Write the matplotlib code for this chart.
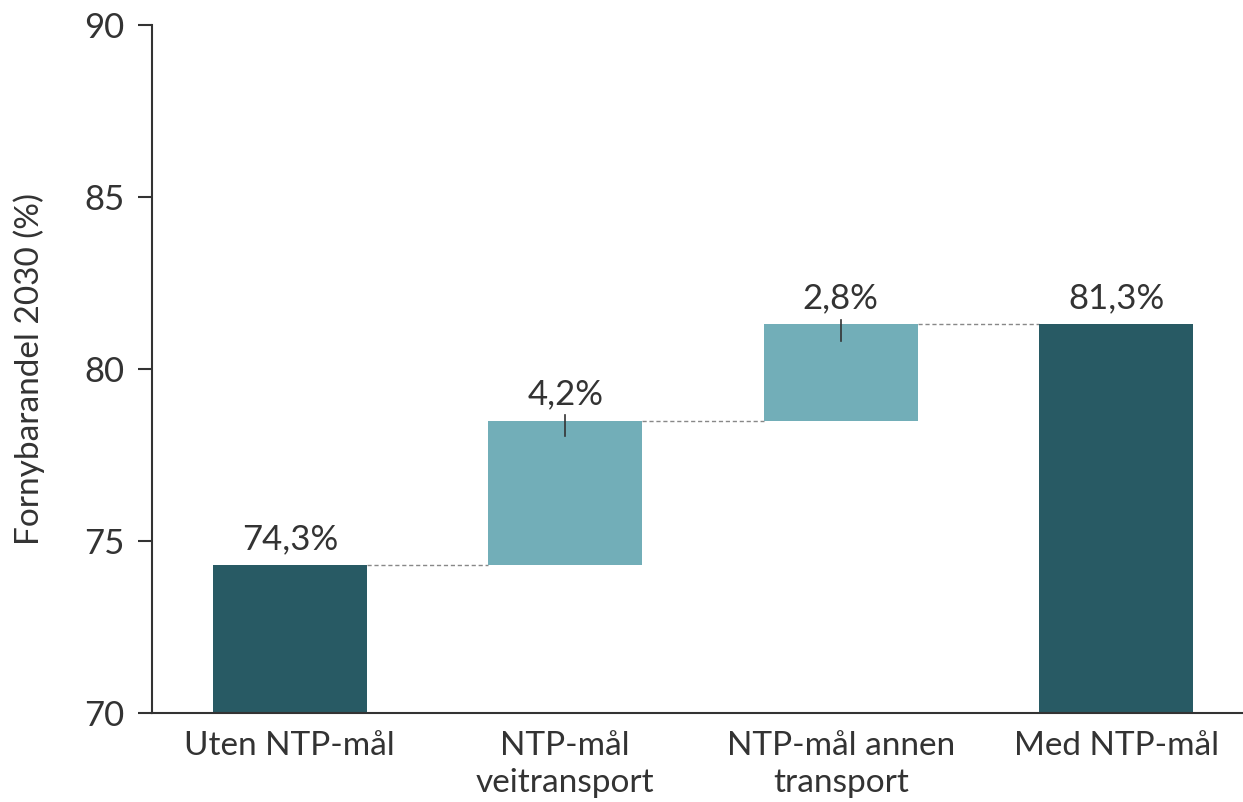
import numpy as np
import matplotlib.pyplot as plt

# ==========================================================
# Data
# ==========================================================

categories = ["Uten NTP-mål", "NTP-mål\nveitransport", "NTP-mål annen\ntransport", "Med NTP-mål"]
bottoms = [70, 74.3, 78.5, 70]
tops = [74.3, 78.5, 81.3, 81.3]
labels = ["74,3%", "4,2%", "2,8%", "81,3%"]
kinds = ["total", "step", "step", "total"]
err_hi = [0, 0.15, 0.12, 0]
err_lo = [0, 0.45, 0.5, 0]

dark = "#285a64"
light = "#72aeb8"
text_col = "#333333"

plt.rcParams["font.family"] = ["Lato", "DejaVu Sans"]

fig = plt.figure(figsize=(12.43, 8.02), dpi=100)
ax = fig.add_axes([152 / 1243, 89 / 802, 1 - 152 / 1243, (713 - 25) / 802])

x = np.arange(len(categories))
heights = [t - b for t, b in zip(tops, bottoms)]
colors = [dark if k == "total" else light for k in kinds]

ax.bar(x, heights, bottom=bottoms, width=0.56, color=colors, zorder=2)

# connectors
for i in range(len(x) - 1):
    ax.plot([x[i] + 0.28, x[i + 1] - 0.28], [tops[i], tops[i]],
            ls=(0, (3, 2)), color="#888888", lw=1, zorder=1)

# error-like marks
for i in range(len(x)):
    if err_hi[i] or err_lo[i]:
        ax.plot([x[i], x[i]], [tops[i] - err_lo[i], tops[i] + err_hi[i]],
                color=text_col, lw=1.2, zorder=3)

# value labels
for i in range(len(x)):
    ax.text(x[i], tops[i] + 0.3, labels[i], ha="center", va="bottom",
            fontsize=25, color=text_col)

ax.set_xlim(-0.5, -0.5 + (1243 - 152) / 275.5)
ax.set_ylim(70, 90)
ax.set_yticks([70, 75, 80, 85, 90])
ax.set_xticks(x)
ax.set_xticklabels(categories, fontsize=24, color=text_col, linespacing=1.3)
ax.tick_params(axis="x", length=0, pad=13)
ax.tick_params(axis="y", labelsize=25, labelcolor=text_col, length=10, width=1.5, color=text_col, pad=10)
ax.set_ylabel("Fornybarandel 2030 (%)", fontsize=24, color=text_col, labelpad=28)

for s in ["top", "right"]:
    ax.spines[s].set_visible(False)
for s in ["left", "bottom"]:
    ax.spines[s].set_color(text_col)
    ax.spines[s].set_linewidth(1.5)

fig.savefig("out.png", dpi=100)
